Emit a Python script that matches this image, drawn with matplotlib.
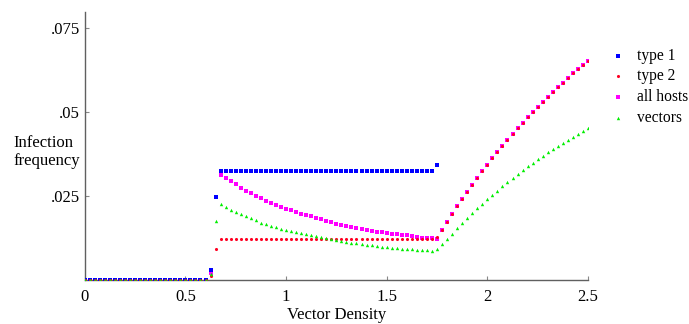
# -*- coding: utf-8 -*-
import numpy as np
import matplotlib
matplotlib.use('Agg')
import matplotlib.pyplot as plt

#%% data (x step 0.025 from 0 to 2.5)
density = np.round(np.arange(101) * 0.025, 3)

type1 = ([0.0] * 25 + [0.0030, 0.0248] + [0.0324] * 43 + [0.0343]
         + [np.nan] * 30)

type2 = ([0.0] * 25 + [0.0012, 0.0094] + [0.0122] * 43 +
         [0.0128, 0.0151, 0.0174, 0.0198, 0.0220, 0.0242, 0.0264, 0.0285,
          0.0304, 0.0324, 0.0344, 0.0363, 0.0383, 0.0400, 0.0418, 0.0435,
          0.0453, 0.0469, 0.0485, 0.0501, 0.0516, 0.0532, 0.0546, 0.0561,
          0.0575, 0.0589, 0.0603, 0.0616, 0.0630, 0.0642, 0.0654])

all_hosts = ([0.0] * 25 + [0.0022, 0.0248] +
             [0.0315, 0.0306, 0.0295, 0.0286, 0.0275, 0.0266, 0.0259, 0.0252,
              0.0244, 0.0236, 0.0230, 0.0224, 0.0218, 0.0212, 0.0208, 0.0203,
              0.0198, 0.0194, 0.0190, 0.0186,
              0.0181, 0.0177, 0.0173, 0.0169, 0.0166, 0.0162, 0.0159, 0.0156,
              0.0153, 0.0151, 0.0148, 0.0145, 0.0143, 0.0141, 0.0139, 0.0137,
              0.0135, 0.0134, 0.0131, 0.0128, 0.0127, 0.0126, 0.0125, 0.0123]
             + type2[71:])

vectors = ([0.0] * 25 + [0.0018, 0.0177] +
           [0.0227, 0.0217, 0.0209, 0.0203, 0.0197, 0.0190, 0.0184, 0.0178,
            0.0172, 0.0168, 0.0163, 0.0159, 0.0154, 0.0151, 0.0147, 0.0143,
            0.0140, 0.0137, 0.0134, 0.0132,
            0.0129, 0.0126, 0.0123, 0.0120, 0.0117, 0.0115, 0.0112, 0.0110,
            0.0108, 0.0106, 0.0104, 0.0102, 0.0100, 0.0099, 0.0097, 0.0096,
            0.0094, 0.0093, 0.0092, 0.0091, 0.0090, 0.0089, 0.0088,
            0.0092, 0.0107, 0.0123, 0.0138, 0.0155, 0.0171, 0.0186, 0.0201,
            0.0214, 0.0228, 0.0241, 0.0255, 0.0267, 0.0280, 0.0292, 0.0306,
            0.0316, 0.0328, 0.0339, 0.0350, 0.0360, 0.0371, 0.0381, 0.0390,
            0.0400, 0.0409, 0.0418, 0.0428, 0.0437, 0.0446, 0.0454])

x_ticks = [0, 0.5, 1, 1.5, 2, 2.5]
x_ticklabels = ['0', '0.5', '1', '1.5', '2', '2.5']
y_ticks = [0.025, 0.05, 0.075]
y_ticklabels = ['.025', '.05', '.075']

#%% figure
plt.rcParams['font.family'] = ['Liberation Serif', 'DejaVu Serif']
fig = plt.figure(figsize=(6.89, 3.24), dpi=100)
ax = fig.add_axes([0.123, 0.135, 0.7304, 0.829])

h_mag = ax.scatter(density, all_hosts, marker='s', s=8, c='#ff00ff', lw=0, zorder=2)
h_blu = ax.scatter(density, type1, marker='s', s=12, c='#0000ff', lw=0, zorder=3)
h_red = ax.scatter(density, type2, marker='o', s=5, c='#ff0022', lw=0, zorder=4)
h_grn = ax.scatter(density, vectors, marker='^', s=6, c='#00ee00', lw=0, zorder=5)

ax.set_xlim(0, 2.5)
ax.set_ylim(0, 0.08)
ax.set_xticks(x_ticks)
ax.set_xticklabels(x_ticklabels)
ax.set_yticks(y_ticks)
ax.set_yticklabels(y_ticklabels)
ax.tick_params(direction='in', length=3, color='#888888', labelsize=12)
ax.tick_params(axis='x', pad=6)
for side in ['top', 'right']:
    ax.spines[side].set_visible(False)
for side in ['left', 'bottom']:
    ax.spines[side].set_color('#606060')
    ax.spines[side].set_linewidth(1.0)

ax.set_xlabel('Vector Density', fontsize=12, labelpad=2)
fig.text(0.019, 1 - 152 / 324., 'Infection\nfrequency', fontsize=12,
         ha='left', va='center', linespacing=1.15)

fig.legend([h_blu, h_red, h_mag, h_grn],
           ['type 1', 'type 2', 'all hosts', 'vectors'],
           loc='upper left', bbox_to_anchor=(0.886, 0.853), frameon=False,
           fontsize=11.2, handletextpad=0.7, labelspacing=0.3,
           handlelength=1.0, borderaxespad=0, borderpad=0)

fig.savefig('out.png', dpi=100)
